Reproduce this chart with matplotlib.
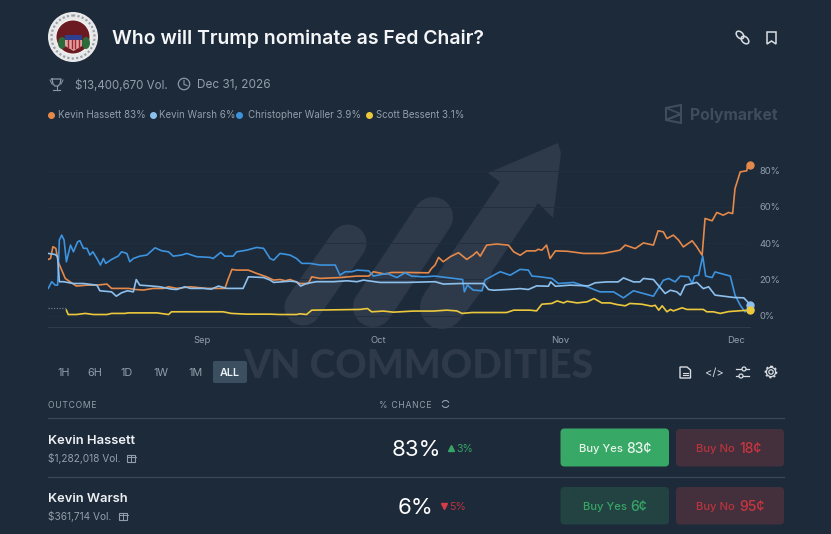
"""Polymarket card: Who will Trump nominate as Fed Chair?"""
import matplotlib
matplotlib.use("Agg")
import matplotlib.pyplot as plt
from matplotlib.patches import Arc, Circle, FancyBboxPatch, Polygon, Rectangle, Ellipse

W, H = 831, 534
BG = "#1d2a3a"
MUTED = "#929eab"
WATERMARK = "#2e3a4a"
ORANGE = "#e5894a"
SKY = "#8ec0ee"
BLUE = "#3d93dd"
YELLOW = "#ecc93c"
FONT = ["Inter", "DejaVu Sans"]

# days counted from Sep 1, values in percent
hassett_days = [-26.2, -25.8, -25.4, -24.9, -24.5, -23.9, -23.3, -22.5, -21.4, -19.6, -17.9, -16.2, -15.4, -13.7,
                -12.5, -11.4, -10.0, -8.3, -6.6, -5.7, -4.3, -2.0, 0.8, 3.9, 4.5, 5.1, 5.9, 7.9, 9.3, 11.0, 12.2,
                13.3, 14.2, 15.0, 16.7, 18.1, 18.7, 20.1, 23.5, 26.4, 28.4, 29.2, 31.2, 32.3, 34.9, 38.6, 39.1,
                39.7, 40.3, 41.1, 42.3, 43.7, 45.1, 46.2, 46.8, 47.4, 48.5, 50.2, 52.2, 53.1, 54.2, 55.3, 56.8,
                57.3, 57.9, 58.7, 59.3, 60.2, 62.2, 65.0, 68.4, 71.2, 72.1, 73.8, 75.2, 76.9, 77.7, 78.6, 79.2,
                80.3, 81.2, 82.0, 83.5, 84.3, 85.2, 85.7, 86.9, 87.7, 88.8, 89.7, 90.4, 90.8, 91.7, 92.8, 93.0, 93.4]
hassett_pct = [31.0, 31.5, 38.0, 37.1, 29.7, 25.1, 20.5, 18.7, 16.3, 16.8, 16.8, 17.4, 15.0, 15.0,
               15.0, 14.4, 14.1, 15.0, 15.0, 15.9, 15.0, 15.9, 15.0, 15.0, 20.5, 25.5, 25.1, 25.1, 23.3, 21.4, 19.6,
               19.9, 19.2, 19.9, 17.7, 17.7, 21.4, 20.5, 21.0, 21.8, 21.8, 24.2, 22.9, 23.8, 23.8, 23.6, 26.0,
               27.9, 32.1, 29.7, 32.5, 34.7, 31.0, 33.4, 35.2, 32.8, 38.9, 39.5, 38.9, 35.2, 33.3, 35.7, 35.7,
               36.6, 36.1, 38.9, 31.5, 35.7, 35.5, 34.3, 34.3, 36.1, 38.9, 37.0, 40.1, 38.9, 46.8, 46.2, 42.5,
               44.4, 41.6, 37.9, 41.3, 37.9, 33.3, 53.6, 52.3, 56.9, 55.4, 56.9, 56.3, 70.1, 79.3, 79.9, 83.6, 83.0]

warsh_days = [-26.2, -25.0, -24.6, -24.3, -23.6, -21.9, -20.2, -17.9, -17.4, -15.4, -14.6, -13.7, -12.7, -11.7,
              -11.2, -10.6, -8.9, -7.2, -5.2, -4.3, -2.9, -2.0, 0.2, 1.6, 2.8, 4.2, 7.0, 7.9, 10.5, 11.6, 12.2,
              15.0, 16.1, 16.8, 17.8, 19.5, 22.4, 24.7, 26.4, 27.5, 30.3, 34.9, 39.7, 41.1, 44.0, 48.0, 48.8,
              49.7, 53.1, 54.2, 55.6, 57.0, 59.0, 59.4, 60.2, 62.7, 65.8, 67.0, 69.0, 70.9, 71.8, 73.5, 74.6,
              75.2, 76.9, 78.9, 79.8, 80.9, 81.5, 82.3, 84.3, 85.4, 86.3, 87.4, 90.6, 92.3, 93.4]
warsh_pct = [34.3, 33.7, 32.5, 18.7, 18.7, 17.7, 17.7, 16.8, 13.7, 13.1, 10.7, 12.6, 13.7, 13.1,
             19.9, 16.8, 16.4, 15.9, 14.6, 14.4, 15.9, 15.0, 15.0, 14.6, 16.3, 15.0, 15.0, 21.4, 21.0, 19.6, 18.3,
             19.0, 18.7, 16.3, 17.7, 18.7, 18.7, 19.2, 18.7, 19.6, 18.3, 18.3, 18.7, 17.4, 17.7, 17.7, 14.4,
             14.0, 14.6, 14.9, 14.4, 16.4, 16.2, 18.6, 16.2, 16.8, 16.4, 18.1, 18.6, 18.6, 20.8, 18.6, 18.6,
             20.5, 19.9, 12.2, 14.0, 13.1, 11.3, 16.8, 18.3, 14.9, 15.9, 11.3, 10.0, 9.8, 6.0]

waller_days = [-26.2, -25.6, -25.0, -24.6, -24.3, -23.9, -23.5, -23.1, -22.4, -21.9, -21.2, -20.8, -20.2, -19.6,
               -19.1, -18.6, -17.9, -17.3, -16.8, -16.4, -15.4, -14.3, -13.7, -12.8, -12.3, -11.7, -10.6, -9.4,
               -8.0, -6.9, -5.7, -4.9, -3.5, -2.6, -0.9, 1.4, 1.9, 3.2, 3.9, 5.3, 5.9, 7.6, 9.3, 10.5, 11.6, 12.2,
               13.3, 15.0, 16.1, 17.0, 18.4, 20.1, 22.7, 23.5, 24.4, 25.5, 26.4, 28.4, 29.2, 31.5, 33.2, 34.6,
               35.7, 37.7, 39.7, 41.7, 44.4, 44.7, 45.2, 46.2, 47.7, 48.2, 49.7, 50.8, 52.5, 54.2, 55.6, 56.2,
               57.6, 59.6, 60.7, 63.3, 65.6, 67.8, 70.1, 71.8, 73.5, 76.9, 78.6, 79.5, 80.6, 81.5, 82.9, 83.5,
               83.9, 84.6, 85.3, 85.8, 86.9, 87.4, 90.0, 90.8, 91.7, 92.5, 93.4]
waller_pct = [15.0, 18.7, 16.8, 16.8, 41.7, 44.4, 41.7, 29.7, 38.9, 35.2, 40.7, 41.3, 37.1, 37.1,
              33.4, 35.2, 31.5, 27.9, 31.5, 28.8, 31.0, 32.8, 35.2, 34.3, 29.7, 31.5, 32.8, 33.4,
              37.4, 35.8, 35.2, 32.8, 33.4, 34.3, 32.5, 32.1, 31.5, 34.9, 32.8, 32.8, 35.2, 36.1, 37.6, 37.1, 31.5, 30.6,
              34.3, 33.4, 31.5, 28.8, 28.8, 27.9, 27.9, 22.3, 24.2, 24.2, 25.1, 24.7, 21.8, 23.3, 21.0, 23.6,
              21.8, 21.4, 21.8, 21.0, 19.9, 13.1, 16.8, 14.1, 13.7, 19.6, 22.3, 24.2, 22.3, 25.5, 25.1, 21.8,
              21.4, 20.5, 17.7, 18.3, 15.9, 13.1, 13.1, 9.8, 13.7, 10.7, 19.5, 20.5, 18.6, 21.8, 21.4, 17.7,
              21.8, 22.3, 32.8, 21.8, 21.0, 24.1, 21.8, 11.3, 5.7, 2.1, 3.9]

bessent_days = [-23.1, -22.8, -21.4, -19.9, -18.5, -16.2, -15.4, -13.1, -12.6, -7.7, -5.7, -5.2, 3.6, 5.0, 7.6,
                11.6, 13.3, 16.1, 16.7, 17.8, 18.7, 26.9, 28.2, 28.9, 30.9, 32.6, 36.0, 39.4, 41.7, 43.4, 44.3,
                46.0, 51.9, 53.1, 55.9, 57.0, 57.9, 59.6, 60.5, 61.6, 62.2, 63.9, 65.6, 66.8, 68.1, 69.5, 70.7,
                72.1, 72.9, 74.9, 76.6, 77.2, 77.8, 78.4, 79.2, 79.8, 80.3, 81.8, 82.6, 85.4, 86.0, 87.1, 88.3,
                89.7, 93.4]
bessent_pct = [3.0, 0.6, 0.6, 1.2, 0.6, 0.6, 1.2, 1.2, 1.5, 1.5, 0.6, 2.1, 2.1, 1.2, 0.8,
               0.8, 0.6, 0.6, 1.0, 0.6, 3.0, 3.4, 3.9, 2.1, 2.5, 1.9, 2.5, 2.5, 3.0, 2.6, 1.2,
               1.7, 1.7, 3.0, 3.0, 2.6, 6.3, 6.7, 8.1, 7.0, 7.9, 7.0, 7.6, 9.4, 7.0, 7.0, 6.1,
               5.4, 6.7, 6.3, 5.2, 5.7, 3.0, 5.4, 2.1, 3.4, 2.6, 4.3, 3.4, 3.4, 2.1, 2.1, 1.2,
               2.2, 3.1]

pre_days = [-26.2, -23.1]
pre_pct = [4.3, 4.3]

legend_items = [("Kevin Hassett 83%", ORANGE, 51, 58), ("Kevin Warsh 6%", SKY, 153, 159),
                ("Christopher Waller 3.9%", BLUE, 239, 248), ("Scott Bessent 3.1%", YELLOW, 369, 376)]
range_labels = ["1H", "6H", "1D", "1W", "1M", "ALL"]
range_x = [63.5, 95, 127, 161, 195.5, 230]
month_ticks = [0, 30, 61, 91]
month_labels = ["Sep", "Oct", "Nov", "Dec"]
pct_ticks = [0, 20, 40, 60, 80]


def label(ax, x, y, s, size, color=MUTED, weight="normal", ha="left", **kw):
    return ax.text(x, y, s, fontsize=size, color=color, fontweight=weight, ha=ha, va="center_baseline",
                   family=kw.pop("family", FONT), **kw)


def button(ax, x0, y0, x1, y1, color):
    ax.add_patch(FancyBboxPatch((x0 + 4, y0 + 4), x1 - x0 - 8, y1 - y0 - 8, boxstyle="round,pad=4,rounding_size=4",
                                fc=color, ec="none", mutation_aspect=1))


def capsule(ax, p0, p1, width):
    ax.plot([p0[0], p1[0]], [p0[1], p1[1]], color=WATERMARK, lw=width * 0.72, solid_capstyle="round", zorder=1)


def draw_watermark(ax):
    capsule(ax, (303, 307), (348, 243), 37)
    capsule(ax, (373, 307), (433, 217), 40)
    capsule(ax, (442, 307), (470, 270), 44)
    ax.add_patch(Polygon([(424, 294), (500, 182), (488, 173), (558, 143), (561, 153),
                          (553, 218), (538, 203), (460, 319)], fc=WATERMARK, ec="none", zorder=1))
    ax.text(418, 367, "VN COMMODITIES", fontsize=28, color=WATERMARK, fontweight="black",
            family=["Lato", "DejaVu Sans"], ha="center", va="center", zorder=1)


def draw_seal(ax):
    ax.add_patch(Circle((73, 37), 25, fc="#e9e9ea", ec="none", zorder=2))
    ax.add_patch(Circle((73, 37), 21.5, fc="none", ec="#9aa2ab", lw=1.6, ls=(0, (1, 1)), zorder=3))
    ax.add_patch(Circle((73, 37), 18, fc="#f0f0f0", ec="none", zorder=3))
    ax.add_patch(Circle((73, 37), 16.5, fc="#6c1a22", ec="none", zorder=3))
    ax.add_patch(Ellipse((62, 43), 8, 12, fc="#2e6b3a", ec="none", zorder=4))
    ax.add_patch(Ellipse((86, 43), 8, 12, fc="#2e6b3a", ec="none", zorder=4))
    ax.add_patch(Polygon([(65, 37), (82, 37), (82, 46), (73.5, 51), (65, 46)], fc="#d9a3a3", ec="none", zorder=4))
    ax.add_patch(Rectangle((65, 35), 17, 5, fc="#2f3f8f", ec="none", zorder=5))
    for sx in [68, 71.5, 75, 78.5]:
        ax.plot([sx, sx], [40, 48], color="#a8232c", lw=1.0, zorder=5)


def draw_icons(ax):
    ic = "#8b98a6"
    # trophy and clock
    ax.plot([52, 61, 60, 58, 55, 53, 52], [79, 79, 84, 86, 86, 84, 79], color=ic, lw=0.9)
    ax.plot([50, 52], [80, 84], color=ic, lw=0.7)
    ax.plot([63, 61], [80, 84], color=ic, lw=0.7)
    ax.plot([56.5, 56.5], [86, 90], color=ic, lw=0.8)
    ax.plot([53, 60], [90, 90], color=ic, lw=0.8)
    ax.add_patch(Circle((184, 84), 5.7, fc="none", ec=ic, lw=0.9))
    ax.plot([184, 184, 187], [80.5, 84.5, 85.5], color=ic, lw=0.8)
    # link and bookmark
    for cx, cy in [(740, 35), (745, 40)]:
        ax.add_patch(Ellipse((cx, cy), 9, 6, angle=45, fc="none", ec="#d8dde3", lw=1.1))
    ax.add_patch(Polygon([(767, 32), (776, 32), (776, 44), (771.5, 41), (767, 44)], fc="none", ec="#d8dde3", lw=1.1))
    # Polymarket mark
    ax.add_patch(Polygon([(666, 108), (681, 105), (681, 123), (666, 120)], fc="none", ec="#3f4c5b", lw=1.5))
    ax.plot([666, 681, 666, 681], [108, 114, 120, 114], color="#3f4c5b", lw=1.3)
    # chart tools
    tool = "#d8dde3"
    ax.add_patch(Polygon([(680, 367), (687, 367), (690.5, 370), (690.5, 378), (680, 378)], fc="none", ec=tool, lw=1.0))
    ax.plot([682.5, 688], [372.5, 372.5], color=tool, lw=0.8)
    ax.plot([682.5, 688], [375, 375], color=tool, lw=0.8)
    label(ax, 714, 372, "</>", 8, tool, ha="center")
    ax.plot([736, 749], [369, 369], color=tool, lw=0.9)
    ax.plot([736, 749], [376, 376], color=tool, lw=0.9)
    for cx, cy in [(744, 369), (741, 376)]:
        ax.add_patch(Circle((cx, cy), 2, fc=BG, ec=tool, lw=0.9, zorder=4))
    ax.add_patch(Circle((771, 372), 2.2, fc="none", ec=tool, lw=0.9))
    ax.add_patch(Circle((771, 372), 4.6, fc="none", ec=tool, lw=0.9))
    ax.add_patch(Circle((771, 372), 5.6, fc="none", ec=tool, lw=1.1, ls=(0, (1.4, 1.4))))
    # refresh next to % CHANCE
    ax.add_patch(Arc((445.5, 404), 7, 7, theta1=200, theta2=340, ec=MUTED, lw=0.8))
    ax.add_patch(Arc((445.5, 404), 7, 7, theta1=20, theta2=160, ec=MUTED, lw=0.8))
    # gift boxes
    for gx, gy in [(131, 458), (123, 516)]:
        ax.add_patch(Rectangle((gx - 4, gy - 3), 8, 7, fc="none", ec=MUTED, lw=0.8))
        ax.plot([gx - 4.5, gx + 4.5], [gy - 1, gy - 1], color=MUTED, lw=0.7)
        ax.plot([gx, gx], [gy - 3, gy + 4], color=MUTED, lw=0.7)


def draw_table(ax):
    label(ax, 48, 404, "\u200a".join("OUTCOME"), 6.2, MUTED)
    label(ax, 379, 404, "\u200a".join("% CHANCE"), 6.2, MUTED)
    for y in [418, 476.5]:
        ax.plot([48, 784], [y, y], color="#3a4859", lw=0.9)

    label(ax, 48, 439, "Kevin Hassett", 9.3, "#eef1f4", weight=600)
    label(ax, 48, 458, "$1,282,018 Vol.", 7.3)
    label(ax, 416, 448, "83%", 16, "#ffffff", ha="center")
    ax.plot(451, 448, marker="^", ms=4, color="#37a566", ls="none")
    label(ax, 456, 448, "3%", 7.6, "#37a566")

    label(ax, 48, 497, "Kevin Warsh", 9.3, "#eef1f4", weight=600)
    label(ax, 48, 516, "$361,714 Vol.", 7.3)
    label(ax, 415.5, 506, "6%", 16, "#ffffff", ha="center")
    ax.plot(443.5, 506, marker="v", ms=4, color="#d63d48", ls="none")
    label(ax, 449, 506, "5%", 7.6, "#b9343e")

    button(ax, 560.5, 428.5, 669, 466.5, "#38a866")
    button(ax, 676, 429, 784, 466.5, "#43303c")
    button(ax, 560.5, 487, 669, 524.5, "#234342")
    button(ax, 676, 487, 784, 524.5, "#43303c")
    label(ax, 579, 447.5, "Buy Yes", 8.1, "#e8f5ec", weight=500)
    label(ax, 626, 447.5, "83¢", 10, "#e8f5ec", weight=500)
    label(ax, 696.5, 447.5, "Buy No", 8.1, "#b9343e", weight=500)
    label(ax, 739, 447.5, "18¢", 10, "#c8363f", weight=500)
    label(ax, 583, 505.5, "Buy Yes", 8.1, "#37a566", weight=500)
    label(ax, 630, 505.5, "6¢", 10, "#37a566", weight=500)
    label(ax, 696.5, 505.5, "Buy No", 8.1, "#b9343e", weight=500)
    label(ax, 739, 505.5, "95¢", 10, "#c8363f", weight=500)


def draw_chart(fig):
    # pixel box of the plot: x 48-750, y 130-326.5; 0% sits at y 315.6, 1% = 1.8125 px, 1 day = 5.87 px
    ax = fig.add_axes([48 / W, 1 - 326.5 / H, 702 / W, 196.5 / H], facecolor="none", zorder=2)
    ax.set_xlim((48 - 202) / 5.87, (750 - 202) / 5.87)
    ax.set_ylim((315.6 - 326.5) / 1.8125, (315.6 - 130) / 1.8125)
    for s in ["top", "left", "right"]:
        ax.spines[s].set_visible(False)
    ax.spines["bottom"].set_color("#2f3c4c")
    ax.spines["bottom"].set_linewidth(0.8)
    ax.yaxis.tick_right()
    ax.set_yticks(pct_ticks)
    ax.set_yticklabels([f"{v}%" for v in pct_ticks], family=FONT, fontsize=6.8, color=MUTED)
    ax.set_xticks(month_ticks)
    ax.set_xticklabels(month_labels, family=FONT, fontsize=6.8, color=MUTED)
    ax.tick_params(axis="y", length=0, pad=6.5)
    ax.tick_params(axis="x", length=0, pad=6.5)
    ax.grid(axis="y", color="#212e3e", lw=0.6)
    ax.set_axisbelow(True)

    ax.plot(pre_days, pre_pct, color="#7d8894", lw=0.8, ls=(0, (1, 1.5)))
    series = [(hassett_days, hassett_pct, ORANGE), (waller_days, waller_pct, BLUE),
              (warsh_days, warsh_pct, SKY), (bessent_days, bessent_pct, YELLOW)]
    for days, pct, color in series:
        ax.plot(days, pct, color=color, lw=1.2, solid_joinstyle="round")
    for days, pct, color in series:
        ax.plot(days[-1], pct[-1], marker="o", ms=5.0, color=color, ls="none", clip_on=False, zorder=5)


def main():
    fig = plt.figure(figsize=(W / 100, H / 100), dpi=100, facecolor=BG)
    ax = fig.add_axes([0, 0, 1, 1])
    ax.set_xlim(0, W)
    ax.set_ylim(H, 0)
    ax.axis("off")

    draw_watermark(ax)
    draw_seal(ax)
    draw_icons(ax)

    label(ax, 112, 37, "Who will Trump nominate as Fed Chair?", 14, "#f4f6f8", weight=600)
    label(ax, 75, 84, "$13,400,670 Vol.", 8.3)
    label(ax, 197, 84, "Dec 31, 2026", 8.5)
    label(ax, 690, 114, "Polymarket", 11.3, "#3f4c5b", weight=700)
    for text, color, dot_x, text_x in legend_items:
        ax.plot(dot_x, 114.5, marker="o", ms=4.0, color=color, ls="none")
        label(ax, text_x, 114.5, text, 7.0)

    ax.add_patch(FancyBboxPatch((217, 365), 26, 14, boxstyle="round,pad=4,rounding_size=2", fc="#3c4f60", ec="none", zorder=2))
    for text, x in zip(range_labels, range_x):
        active = text == "ALL"
        label(ax, x, 372, text, 7.8, "#eef1f4" if active else MUTED, ha="center", weight=600 if active else 400, zorder=3)

    draw_table(ax)
    draw_chart(fig)
    fig.savefig("out.png", dpi=100, facecolor=BG)


if __name__ == "__main__":
    main()
